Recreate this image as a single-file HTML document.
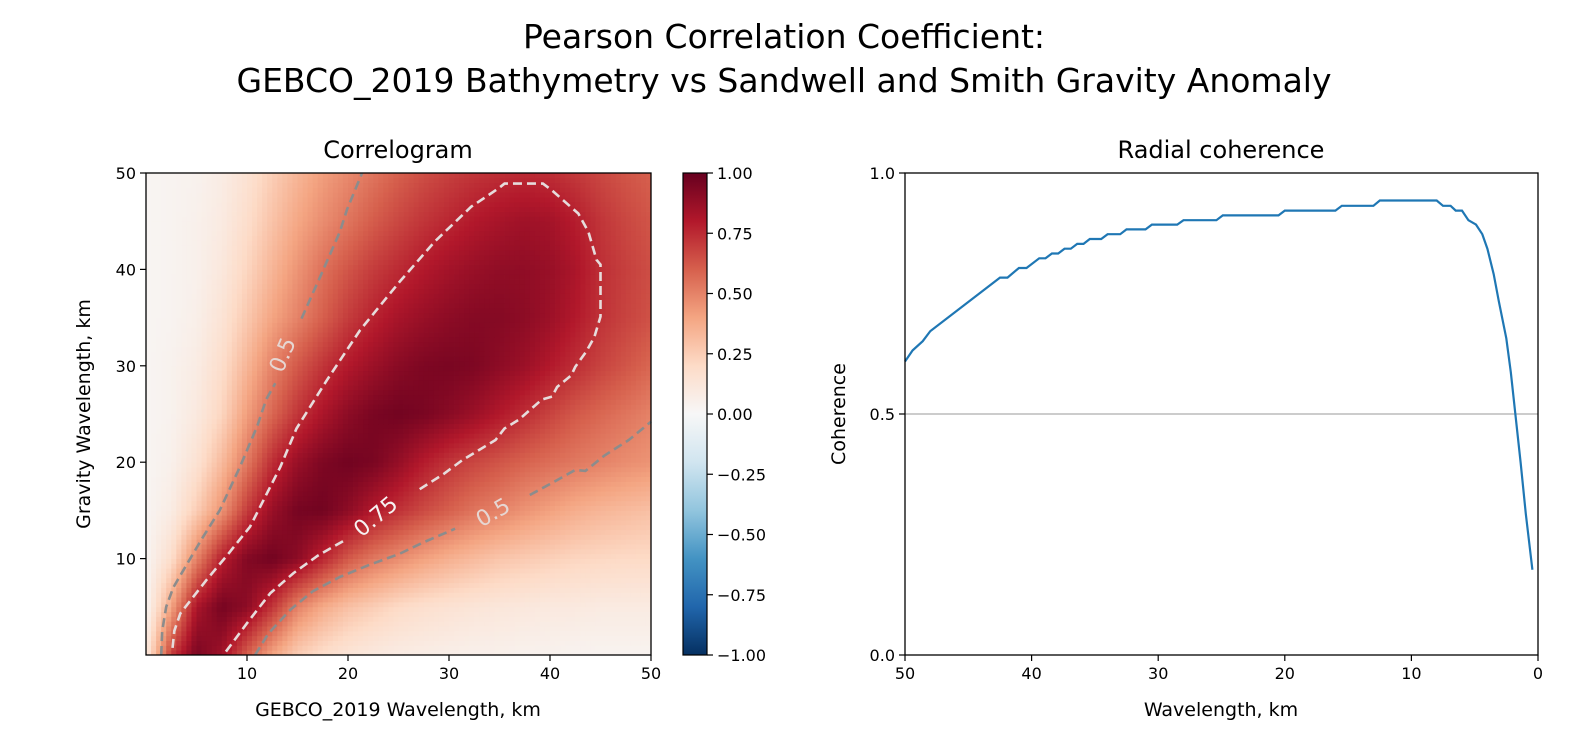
<!DOCTYPE html>
<html><head><meta charset="utf-8"><style>
body{margin:0;background:#fff;}
svg{display:block;font-family:"DejaVu Sans","Liberation Sans",sans-serif;}
</style></head><body>
<svg id="fig" width="1575" height="750" viewBox="0 0 1575 750">
<defs>
<linearGradient id="cbg" x1="0" y1="1" x2="0" y2="0">
<stop offset="0" stop-color="#053061"/><stop offset="0.1" stop-color="#2166ac"/><stop offset="0.2" stop-color="#4393c3"/><stop offset="0.3" stop-color="#92c5de"/><stop offset="0.4" stop-color="#d1e5f0"/><stop offset="0.5" stop-color="#f7f7f7"/><stop offset="0.6" stop-color="#fddbc7"/><stop offset="0.7" stop-color="#f4a582"/><stop offset="0.8" stop-color="#d6604d"/><stop offset="0.9" stop-color="#b2182b"/><stop offset="1" stop-color="#67001f"/>
</linearGradient>
</defs>
<text x="784" y="48" font-size="33" text-anchor="middle">Pearson Correlation Coefficient:</text>
<text x="784" y="92" font-size="33" text-anchor="middle">GEBCO_2019 Bathymetry vs Sandwell and Smith Gravity Anomaly</text>
<text x="398" y="158" font-size="24" text-anchor="middle">Correlogram</text>
<text x="1221" y="158" font-size="24" text-anchor="middle">Radial coherence</text>
<g id="heat"></g>
<g id="contours"></g>
<rect x="146" y="173" width="505" height="482" fill="none" stroke="#000" stroke-width="1.3"/>
<g id="haxes"></g>
<text x="398" y="716" font-size="19" text-anchor="middle">GEBCO_2019 Wavelength, km</text>
<text transform="translate(90,414) rotate(-90)" font-size="19" text-anchor="middle">Gravity Wavelength, km</text>
<rect x="683" y="173" width="24" height="482" fill="url(#cbg)" stroke="#000" stroke-width="1.2"/>
<g id="cbaxes"></g>
<line x1="905" y1="414" x2="1538" y2="414" stroke="#bbb" stroke-width="1.5"/>
<path id="coh" fill="none" stroke="#1f77b4" stroke-width="2.2"/>
<rect x="905" y="173" width="633" height="482" fill="none" stroke="#000" stroke-width="1.3"/>
<g id="caxes"></g>
<text x="1221" y="716" font-size="19" text-anchor="middle">Wavelength, km</text>
<text transform="translate(845,414) rotate(-90)" font-size="19" text-anchor="middle">Coherence</text>
</svg>
<script>
// Heatmap grid: rows y=0..50 step 5, columns x=0..50 step 2.5
const gridX = [0,2.5,5,7.5,10,12.5,15,17.5,20,22.5,25,27.5,30,32.5,35,37.5,40,42.5,45,47.5,50];
const gridY = [0,5,10,15,20,25,30,35,40,45,50];
const corr = [
[0.10,0.70,0.95,0.85,0.60,0.40,0.25,0.18,0.13,0.10,0.08,0.07,0.06,0.05,0.05,0.04,0.04,0.03,0.03,0.03,0.03],
[0.02,0.40,0.82,0.96,0.90,0.72,0.50,0.38,0.30,0.25,0.20,0.17,0.15,0.13,0.12,0.11,0.10,0.10,0.09,0.09,0.09],
[0.02,0.18,0.50,0.78,0.93,0.97,0.90,0.76,0.62,0.53,0.47,0.41,0.36,0.32,0.28,0.26,0.24,0.22,0.21,0.20,0.20],
[0.02,0.08,0.25,0.45,0.70,0.87,0.96,0.97,0.90,0.80,0.73,0.66,0.60,0.54,0.50,0.45,0.41,0.37,0.34,0.32,0.30],
[0.02,0.05,0.15,0.32,0.53,0.74,0.87,0.94,0.97,0.95,0.88,0.79,0.72,0.67,0.63,0.59,0.56,0.53,0.50,0.47,0.45],
[0.02,0.04,0.10,0.22,0.42,0.58,0.72,0.82,0.90,0.95,0.97,0.95,0.91,0.86,0.80,0.74,0.68,0.62,0.58,0.54,0.50],
[0.02,0.04,0.08,0.18,0.34,0.50,0.62,0.72,0.80,0.86,0.91,0.94,0.95,0.94,0.90,0.86,0.80,0.74,0.68,0.63,0.58],
[0.02,0.03,0.06,0.14,0.27,0.40,0.50,0.60,0.70,0.77,0.83,0.87,0.90,0.92,0.92,0.90,0.86,0.80,0.73,0.68,0.64],
[0.02,0.03,0.05,0.11,0.22,0.34,0.45,0.55,0.63,0.70,0.75,0.80,0.84,0.87,0.89,0.89,0.87,0.82,0.74,0.69,0.65],
[0.02,0.03,0.05,0.09,0.18,0.29,0.39,0.47,0.54,0.61,0.67,0.72,0.76,0.80,0.83,0.85,0.84,0.79,0.72,0.67,0.63],
[0.02,0.03,0.04,0.08,0.15,0.25,0.34,0.42,0.48,0.54,0.60,0.65,0.69,0.72,0.74,0.75,0.74,0.71,0.67,0.63,0.60]
];
const contourLeft05 = [[1.5,0],[1.6,2.5],[2.0,5.0],[2.7,7],[3.7,8.8],[5.5,12],[7.3,15.0],[9.3,19.5],[11.0,23.7],[11.9,26.5],[12.8,28.2]];
const contourLeft05b = [[15.4,34.9],[17.4,39.6],[19.2,43.9],[19.9,46.2],[21.4,50]];
const contour075 = [[27.1,17.2],[29.5,18.8],[31.3,20.2],[34.6,22.3],[35.5,23.5],[36.9,24.4],[39.2,26.5],[40.2,26.8],[40.7,27.8],[42.1,29],[42.5,29.9],[43.6,31.5],[44.4,33],[45,35.1],[45,40.5],[44.6,41],[43.8,43.9],[42.8,45.8],[40.2,48.2],[39.3,48.9],[35.5,48.9],[34.9,48.4],[32.2,46.5],[28.6,42.9],[25.1,38.7],[21.2,33.7],[17.9,28.5],[16.7,26.5],[14.9,23.5],[13.3,19.5],[10.3,13.3],[8,10.3],[6.0,7.8],[3.4,4.3],[2.8,2.5],[2.6,0.5]];
const contour075b = [[19.5,11.8],[17,10.3],[14.6,8.5],[12.3,6.4],[10.0,3.3],[7.8,0.2]];
const contourRight05 = [[10.8,0],[12.1,2.2],[14.3,4.7],[16.5,6.6],[19.2,8.1],[22,9.3],[25.1,10.5],[27.5,11.7],[30.6,13.1]];
const contourRight05b = [[38.0,16.6],[40.3,17.9],[42.5,19.2],[43.5,19.1],[45.4,20.7],[47.8,22.3],[50,24.2]];
const contourLabels = ["0.5","0.75","0.5"];
const labelPos = [[13.6,31.1],[22.8,14.3],[34.4,14.7]];
const labelRot = [-67,-40,-30];
const heatTicks = [10,20,30,40,50];
const cbTicks = [1,0.75,0.5,0.25,0,-0.25,-0.5,-0.75,-1];
const cbTickLabels = ["1.00","0.75","0.50","0.25","0.00","\u22120.25","\u22120.50","\u22120.75","\u22121.00"];
// coherence
const wavelength = [50,49.4,48.6,48.0,42.5,41.9,41.0,40.4,39.4,38.9,38.4,37.9,37.4,36.9,36.4,35.9,35.4,34.5,34.0,33.0,32.5,31.0,30.5,28.5,28.0,25.4,24.9,20.5,20.0,16.0,15.5,13.0,12.5,8.0,7.5,6.9,6.5,6.0,5.5,4.9,4.4,4.0,3.5,3.1,2.5,2.15,1.8,1.37,0.96,0.44];
const coherence = [0.609,0.632,0.651,0.672,0.783,0.783,0.803,0.803,0.823,0.823,0.833,0.833,0.843,0.843,0.853,0.853,0.863,0.863,0.873,0.873,0.883,0.883,0.893,0.893,0.902,0.902,0.912,0.912,0.922,0.922,0.932,0.932,0.943,0.943,0.932,0.932,0.922,0.922,0.902,0.893,0.873,0.843,0.790,0.734,0.657,0.587,0.503,0.398,0.293,0.177];
const cohXTicks = [50,40,30,20,10,0];
const cohYTicks = [0,0.5,1];
const cohYLabels = ["0.0","0.5","1.0"];

const NS='http://www.w3.org/2000/svg';
function mk(tag,attrs,parent){const e=document.createElementNS(NS,tag);for(const k in attrs)e.setAttribute(k,attrs[k]);parent.appendChild(e);return e;}
const hx=v=>146+v/50*505, hy=v=>655-v/50*482;
const cy=v=>655-(v+1)/2*482;
const rx=v=>905+(50-v)/50*633, ry=v=>655-v*482;
const stops=[[-1,[5,48,97]],[-0.8,[33,102,172]],[-0.6,[67,147,195]],[-0.4,[146,197,222]],[-0.2,[209,229,240]],[0,[247,247,247]],[0.2,[253,219,199]],[0.4,[244,165,130]],[0.6,[214,96,77]],[0.8,[178,24,43]],[1,[103,0,31]]];
function cmap(v){v=Math.max(-1,Math.min(1,v));for(let i=0;i<stops.length-1;i++){const a=stops[i],b=stops[i+1];if(v<=b[0]){const t=(v-a[0])/(b[0]-a[0]);return 'rgb('+a[1].map((c,j)=>Math.round(c+(b[1][j]-c)*t)).join(',')+')';}}return 'rgb(103,0,31)';}
function sample(x,y){
  let i=0;while(i<gridX.length-2&&x>gridX[i+1])i++;
  let j=0;while(j<gridY.length-2&&y>gridY[j+1])j++;
  const tx=(x-gridX[i])/(gridX[i+1]-gridX[i]),ty=(y-gridY[j])/(gridY[j+1]-gridY[j]);
  const a=corr[j][i],b=corr[j][i+1],c=corr[j+1][i],d=corr[j+1][i+1];
  return a*(1-tx)*(1-ty)+b*tx*(1-ty)+c*(1-tx)*ty+d*tx*ty;
}
const heat=document.getElementById('heat');
const N=100,step=50/N;
for(let r=0;r<N;r++)for(let c=0;c<N;c++){
  const x0=c*step,y0=r*step;
  const v=sample(x0+step/2,y0+step/2);
  const el=mk('rect',{x:hx(x0).toFixed(2),y:hy(y0+step).toFixed(2),width:(505/N+0.4).toFixed(2),height:(482/N+0.4).toFixed(2),fill:cmap(v)},heat);
  
  
}
const cg=document.getElementById('contours');
function poly(pts,color,name){const el=mk('polyline',{points:pts.map(p=>hx(p[0]).toFixed(1)+','+hy(p[1]).toFixed(1)).join(' '),fill:'none',stroke:color,'stroke-width':2.6,'stroke-dasharray':'9,5'},cg);
  
  }
poly(contourLeft05,'#8c8c8c','contour-0.5-left');
poly(contourLeft05b,'#8c8c8c','contour-0.5-left-upper');
poly(contour075,'#e6dcdc','contour-0.75');
poly(contour075b,'#e6dcdc','contour-0.75-lower');
poly(contourRight05,'#8c8c8c','contour-0.5-right');
poly(contourRight05b,'#8c8c8c','contour-0.5-right-upper');
contourLabels.forEach((t,i)=>{const x=hx(labelPos[i][0]),y=hy(labelPos[i][1]);
  const el=mk('text',{x:x,y:y,'font-size':22,fill:i==1?'#f6f2f2':'#e6d6d2','text-anchor':'middle','dominant-baseline':'central',transform:'rotate('+labelRot[i]+' '+x+' '+y+')'},cg);el.textContent=t;
  
  });
const ha=document.getElementById('haxes');
heatTicks.forEach(t=>{
  mk('line',{x1:hx(t),y1:655,x2:hx(t),y2:661,stroke:'#000','stroke-width':1.2},ha);
  const a=mk('text',{x:hx(t),y:679,'font-size':16,'text-anchor':'middle'},ha);a.textContent=t;
  
  
  mk('line',{x1:140,y1:hy(t),x2:146,y2:hy(t),stroke:'#000','stroke-width':1.2},ha);
  const b=mk('text',{x:136,y:hy(t)+6,'font-size':16,'text-anchor':'end'},ha);b.textContent=t;
  
  
});
const cba=document.getElementById('cbaxes');
cbTicks.forEach((t,i)=>{
  mk('line',{x1:707,y1:cy(t),x2:713,y2:cy(t),stroke:'#000','stroke-width':1.2},cba);
  const a=mk('text',{x:717,y:cy(t)+6,'font-size':16},cba);a.textContent=cbTickLabels[i];
  
  
});
document.getElementById('coh').setAttribute('d',wavelength.map((w,i)=>(i?'L':'M')+rx(w).toFixed(1)+','+ry(coherence[i]).toFixed(1)).join(''));
const ca=document.getElementById('caxes');
cohXTicks.forEach(t=>{
  mk('line',{x1:rx(t),y1:655,x2:rx(t),y2:661,stroke:'#000','stroke-width':1.2},ca);
  const a=mk('text',{x:rx(t),y:679,'font-size':16,'text-anchor':'middle'},ca);a.textContent=t;
  
  
});
cohYTicks.forEach((t,i)=>{
  mk('line',{x1:899,y1:ry(t),x2:905,y2:ry(t),stroke:'#000','stroke-width':1.2},ca);
  const a=mk('text',{x:895,y:ry(t)+6,'font-size':16,'text-anchor':'end'},ca);a.textContent=cohYLabels[i];
  
  
});
</script>
</body></html>
